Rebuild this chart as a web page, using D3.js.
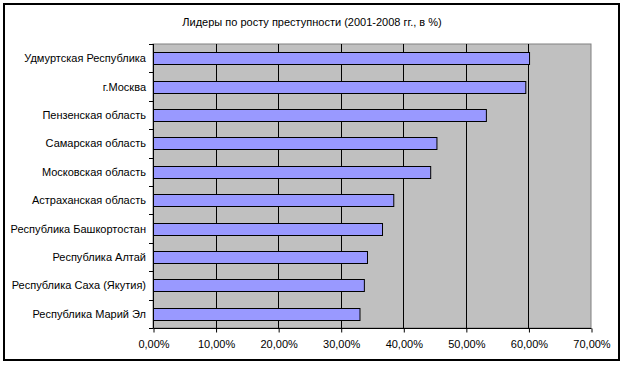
<!DOCTYPE html>
<html>
<head>
<meta charset="utf-8">
<script src="https://cdn.jsdelivr.net/npm/d3@7"></script>
<style>
  html, body { margin: 0; padding: 0; background: #fff; }
  text { font-family: "Liberation Sans", Arial, sans-serif; fill: #000; }
</style>
</head>
<body>
<div id="chart"></div>
<script>
  const title = 'Лидеры по росту преступности (2001-2008 гг., в %)';

  const regions = [
    'Удмуртская Республика',
    'г.Москва',
    'Пензенская область',
    'Самарская область',
    'Московская область',
    'Астраханская область',
    'Республика Башкортостан',
    'Республика Алтай',
    'Республика Саха (Якутия)',
    'Республика Марий Эл'
  ];

  const growth = [60.1, 59.5, 53.2, 45.3, 44.3, 38.4, 36.6, 34.2, 33.7, 33.0];

  const xTicks = [0, 10, 20, 30, 40, 50, 60, 70];

  const width = 623, height = 365;
  const margin = { top: 44, right: 32, bottom: 37, left: 153 };
  const innerW = width - margin.left - margin.right;
  const innerH = height - margin.top - margin.bottom;

  const svg = d3.select('#chart').append('svg')
    .attr('width', width)
    .attr('height', height)
    .style('display', 'block');

  // outer frame
  svg.append('rect')
    .attr('x', 4).attr('y', 4)
    .attr('width', 615).attr('height', 356)
    .attr('fill', '#fff')
    .attr('stroke', '#000')
    .attr('stroke-width', 2);

  svg.append('text')
    .attr('x', 312)
    .attr('y', 26)
    .attr('text-anchor', 'middle')
    .attr('font-size', 11)
    .text(title);

  const g = svg.append('g')
    .attr('transform', `translate(${margin.left},${margin.top})`);

  const x = d3.scaleLinear().domain([0, 70]).range([0, innerW]);
  const y = d3.scaleBand().domain(regions).range([0, innerH]).paddingInner(0.6).paddingOuter(0.3);
  const yBand = d3.scaleBand().domain(regions).range([0, innerH]);

  // plot area
  g.append('rect')
    .attr('x', 0).attr('y', 0)
    .attr('width', innerW).attr('height', innerH)
    .attr('fill', '#c0c0c0')
    .attr('stroke', '#808080')
    .attr('stroke-width', 1);

  // vertical gridlines
  g.append('g')
    .selectAll('line')
    .data(xTicks.filter(d => d > 0 && d < 70))
    .enter()
    .append('line')
    .attr('x1', d => Math.round(x(d)) + 0.5)
    .attr('x2', d => Math.round(x(d)) + 0.5)
    .attr('y1', 0)
    .attr('y2', innerH)
    .attr('stroke', '#000');

  // bars
  g.append('g')
    .selectAll('rect')
    .data(regions)
    .enter()
    .append('rect')
    .attr('x', 0.5)
    .attr('y', d => Math.round(yBand(d) + yBand.bandwidth() / 2 - 6) + 0.5)
    .attr('width', (d, i) => x(growth[i]))
    .attr('height', 12)
    .attr('fill', '#9999ff')
    .attr('stroke', '#000')
    .attr('stroke-width', 1);

  // y axis: ticks at band boundaries
  const yAxisG = g.append('g');
  yAxisG.append('line')
    .attr('x1', 0.5).attr('x2', 0.5)
    .attr('y1', 0).attr('y2', innerH)
    .attr('stroke', '#000');
  const bounds = d3.range(regions.length + 1).map(i => i * yBand.step());
  yAxisG.selectAll('line.tick')
    .data(bounds)
    .enter()
    .append('line')
    .attr('class', 'tick')
    .attr('x1', -4).attr('x2', 0.5)
    .attr('y1', d => Math.round(d) + 0.5)
    .attr('y2', d => Math.round(d) + 0.5)
    .attr('stroke', '#000');
  yAxisG.selectAll('text')
    .data(regions)
    .enter()
    .append('text')
    .attr('x', -7)
    .attr('y', d => yBand(d) + yBand.bandwidth() / 2 + 4)
    .attr('text-anchor', 'end')
    .attr('font-size', 11)
    .text(d => d);

  // x axis
  const xAxis = d3.axisBottom(x)
    .tickValues(xTicks)
    .tickSize(4)
    .tickPadding(8)
    .tickFormat(d => d.toFixed(2).replace('.', ',') + '%');

  g.append('g')
    .attr('transform', `translate(0.5,${innerH + 0.5})`)
    .call(xAxis)
    .call(a => a.select('.domain').attr('stroke', '#000').attr('d', `M0,0H${innerW}`))
    .call(a => a.selectAll('.tick line').attr('stroke', '#000'))
    .call(a => a.selectAll('.tick text')
      .attr('font-size', 11)
      .attr('font-family', '"Liberation Sans", Arial, sans-serif')
      .attr('fill', '#000'));
</script>
</body>
</html>
